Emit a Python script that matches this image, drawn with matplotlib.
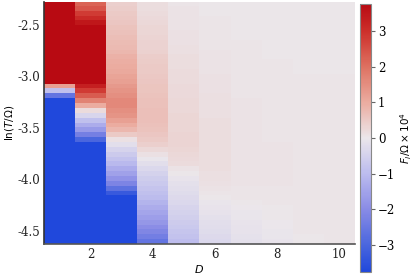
import numpy as np
import matplotlib
matplotlib.use("Agg")
import matplotlib.pyplot as plt
from matplotlib.colors import LinearSegmentedColormap

# D values (columns) and ln(T/Omega) grid (rows, bottom to top)
D_values = [1, 2, 3, 4, 5, 6, 7, 8, 9, 10]
lnT_min, lnT_max, n_rows = -4.605, -2.303, 50

# F_l / Omega x 1e4, each column listed from lowest ln(T) (bottom) to highest (top)
col_D1 = [-5]*30 + [-2.6, -0.9, 1.2] + [5]*17
col_D2 = [-5]*21 + [-3.0, -2.3, -1.7, -1.3, -0.9, -0.4, 0.2, 1.0, 1.7, 2.3, 2.8, 3.3] + [5]*11 + [4.0, 3.5, 3.1, 2.8, 2.4, 2.2]
col_D3 = [-5]*10 + [-3.3, -2.7, -2.2, -1.85, -1.55, -1.3, -1.05, -0.85, -0.65, -0.45,
                    -0.2, 0.1, 0.5, 0.8, 1.0, 1.2, 1.4, 1.5, 1.6, 1.6,
                    1.5, 1.4, 1.3, 1.2, 1.12, 1.05, 1.0, 0.95, 0.9, 0.82,
                    0.75, 0.72, 0.68, 0.64, 0.6, 0.55, 0.52, 0.48, 0.44, 0.4]
col_D4 = [-2.6, -2.35, -2.15, -1.95, -1.75, -1.6, -1.45, -1.3, -1.15, -1.0,
          -0.9, -0.8, -0.7, -0.6, -0.5, -0.35, -0.2, -0.05, 0.1, 0.25,
          0.4, 0.5, 0.55, 0.6, 0.62, 0.65, 0.65, 0.65, 0.64, 0.62,
          0.6, 0.58, 0.56, 0.54, 0.52, 0.5, 0.48, 0.45, 0.42, 0.38,
          0.35, 0.33, 0.31, 0.29, 0.27, 0.25, 0.22, 0.2, 0.17, 0.15]
col_D5 = [-0.95, -0.85, -0.78, -0.7, -0.62, -0.55, -0.48, -0.42, -0.35, -0.3,
          -0.25, -0.2, -0.15, -0.08, 0.0, 0.08, 0.18, 0.22, 0.25, 0.28,
          0.3, 0.3, 0.3, 0.29, 0.28, 0.28, 0.27, 0.26, 0.25, 0.24,
          0.23, 0.22, 0.21, 0.2, 0.19, 0.18, 0.17, 0.16, 0.15, 0.14,
          0.12, 0.11, 0.1, 0.09, 0.08, 0.08, 0.07, 0.06, 0.06, 0.05]
col_D6 = [-0.33, -0.3, -0.26, -0.22, -0.18, -0.15, -0.11, -0.07, -0.04, 0.0,
          0.03, 0.06, 0.09, 0.12, 0.14, 0.15, 0.15, 0.16, 0.17, 0.17,
          0.17, 0.17, 0.16, 0.16, 0.15, 0.15, 0.14, 0.13, 0.13, 0.12,
          0.12, 0.11, 0.1, 0.1, 0.09, 0.08, 0.08, 0.07, 0.07, 0.06,
          0.05, 0.05, 0.04, 0.04, 0.03, 0.03, 0.03, 0.02, 0.02, 0.02]
col_D7 = [-0.15, -0.13, -0.11, -0.09, -0.07, -0.05, -0.03, -0.01, 0.01, 0.03,
          0.04, 0.05, 0.06, 0.07, 0.08, 0.08, 0.08, 0.08, 0.08, 0.08,
          0.08, 0.08, 0.07, 0.07, 0.07, 0.07, 0.06, 0.06, 0.06, 0.06,
          0.05, 0.05, 0.05, 0.05, 0.04, 0.04, 0.04, 0.04, 0.03, 0.03,
          0.03, 0.03, 0.02, 0.02, 0.02, 0.02, 0.01, 0.01, 0.01, 0.01]
col_D8 = [-0.07, -0.05, -0.04, -0.02, -0.01, 0.0, 0.01, 0.02, 0.03, 0.04,
          0.05, 0.05, 0.06, 0.06, 0.06, 0.06, 0.06, 0.06, 0.06, 0.06,
          0.06, 0.05, 0.05, 0.05, 0.05, 0.05, 0.05, 0.04, 0.04, 0.04,
          0.04, 0.04, 0.04, 0.03, 0.03, 0.03, 0.03, 0.03, 0.02, 0.02,
          0.02, 0.02, 0.02, 0.02, 0.01, 0.01, 0.01, 0.01, 0.01, 0.0]
col_D9 = [0.02, 0.02, 0.03, 0.03, 0.04, 0.04, 0.05, 0.05, 0.05, 0.05,
          0.05, 0.05, 0.05, 0.05, 0.05, 0.05, 0.05, 0.05, 0.05, 0.05,
          0.05, 0.04, 0.04, 0.04, 0.04, 0.04, 0.04, 0.04, 0.03, 0.03,
          0.03, 0.03, 0.03, 0.03, 0.03, 0.02, 0.02, 0.02, 0.02, 0.02,
          0.02, 0.02, 0.01, 0.01, 0.01, 0.01, 0.01, 0.01, 0.0, 0.0]
col_D10 = [0.04, 0.04, 0.05, 0.05, 0.05, 0.05, 0.05, 0.05, 0.05, 0.05,
           0.05, 0.05, 0.05, 0.05, 0.05, 0.05, 0.05, 0.05, 0.05, 0.05,
           0.05, 0.04, 0.04, 0.04, 0.04, 0.04, 0.04, 0.04, 0.03, 0.03,
           0.03, 0.03, 0.03, 0.03, 0.03, 0.02, 0.02, 0.02, 0.02, 0.02,
           0.02, 0.02, 0.01, 0.01, 0.01, 0.01, 0.01, 0.01, 0.0, 0.0]

columns = [col_D1, col_D2, col_D3, col_D4, col_D5, col_D6, col_D7, col_D8, col_D9, col_D10]
x_ticks = [2, 4, 6, 8, 10]
y_ticks = [-4.5, -4.0, -3.5, -3.0, -2.5]
y_ticklabels = ["-4.5", "-4.0", "-3.5", "-3.0", "-2.5"]
cbar_ticks = [-3, -2, -1, 0, 1, 2, 3]
vlim = 3.77

Z = np.array(columns).T  # rows x columns
dy = (lnT_max - lnT_min) / (n_rows - 1)

cmap = LinearSegmentedColormap.from_list(
    "bwr_custom",
    [(0.0, "#2048dc"), (0.1, "#4a66de"), (0.235, "#8a8ce6"), (0.367, "#bcbcee"),
     (0.5, "#ece7eb"), (0.633, "#ebaca0"), (0.765, "#de7262"), (0.898, "#cd302b"),
     (1.0, "#b80a12")])

fig = plt.figure(figsize=(4.15, 2.77), dpi=100)
ax = fig.add_axes([0.106, 0.119, 0.749, 0.874])
im = ax.imshow(Z, origin="lower", aspect="auto", cmap=cmap, vmin=-vlim, vmax=vlim,
               extent=[D_values[0] - 0.5, D_values[-1] + 0.5,
                       lnT_min - dy / 2, lnT_max + dy / 2])

serif = "DejaVu Serif"
ax.set_xticks(x_ticks)
ax.set_xticklabels([str(t) for t in x_ticks], fontfamily=serif, fontsize=8.5)
ax.set_yticks(y_ticks)
ax.set_yticklabels(y_ticklabels, fontfamily=serif, fontsize=8.5)
ax.tick_params(length=0, pad=3, colors="#222222")
ax.set_xlabel(r"$D$", fontsize=8, labelpad=1)
ax.set_ylabel(r"$\ln(T/\Omega)$", fontsize=7.5, labelpad=1)
for s in ["top", "right"]:
    ax.spines[s].set_visible(False)
ax.spines["left"].set_color("#333333")
ax.spines["bottom"].set_color("#555555")
ax.spines["left"].set_linewidth(1.2)
ax.spines["bottom"].set_linewidth(1.2)

cax = fig.add_axes([0.8675, 0.018, 0.0265, 0.9675])
cb = fig.colorbar(im, cax=cax, ticks=cbar_ticks)
cb.outline.set_edgecolor("#888888")
cb.outline.set_linewidth(0.8)
cax.tick_params(length=3, width=0.8, color="#666666", labelsize=8.5, pad=2)
for lab in cax.get_yticklabels():
    lab.set_fontfamily(serif)
cb.set_label(r"$F_l/\Omega\times10^4$", fontsize=7.5, labelpad=2)

fig.savefig("out.png", dpi=100)
